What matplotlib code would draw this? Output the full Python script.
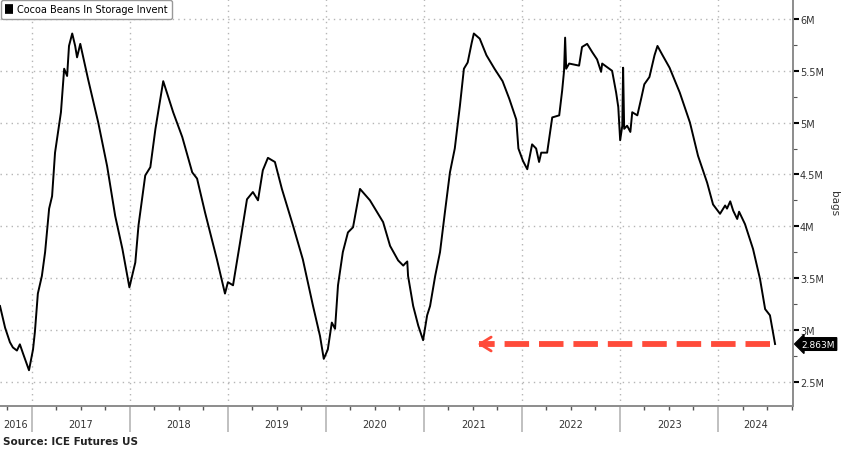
import pandas as pd
import numpy as np
import matplotlib
matplotlib.use("Agg")
import matplotlib.pyplot as plt
import matplotlib.dates as mdates

plt.rcParams['font.family'] = ['DejaVu Sans']

# Cocoa beans in ICE storage, million bags
dates = [
    "2016-09-04", "2016-09-23", "2016-10-11", "2016-10-22", "2016-11-06", "2016-11-17",
    "2016-11-29", "2016-12-21", "2017-01-05", "2017-01-12", "2017-01-23", "2017-02-07",
    "2017-02-19", "2017-03-06", "2017-03-17", "2017-03-28", "2017-04-19", "2017-05-01",
    "2017-05-12", "2017-05-19", "2017-05-31", "2017-06-11", "2017-06-18", "2017-06-30",
    "2017-07-29", "2017-09-05", "2017-10-08", "2017-11-07", "2017-12-04", "2017-12-30",
    "2018-01-21", "2018-02-02", "2018-02-27", "2018-03-18", "2018-04-06", "2018-05-05",
    "2018-06-11", "2018-07-15", "2018-08-21", "2018-09-08", "2018-10-08", "2018-11-21",
    "2018-12-21", "2019-01-01", "2019-01-20", "2019-02-15", "2019-03-13", "2019-04-04",
    "2019-04-23", "2019-05-11", "2019-05-30", "2019-06-25", "2019-07-21", "2019-08-31",
    "2019-10-07", "2019-11-14", "2019-12-10", "2019-12-24", "2020-01-08", "2020-01-23",
    "2020-02-04", "2020-02-15", "2020-03-04", "2020-03-23", "2020-04-11", "2020-05-07",
    "2020-06-13", "2020-08-01", "2020-08-27", "2020-09-26", "2020-10-15", "2020-10-22",
    "2020-10-30", "2020-11-02", "2020-11-21", "2020-12-10", "2020-12-28", "2021-01-12",
    "2021-01-23", "2021-02-11", "2021-03-01", "2021-03-19", "2021-04-07", "2021-04-25",
    "2021-05-14", "2021-05-29", "2021-06-12", "2021-06-27", "2021-07-05", "2021-07-27",
    "2021-08-21", "2021-09-20", "2021-10-20", "2021-11-14", "2021-12-10", "2021-12-18",
    "2022-01-04", "2022-01-20", "2022-02-07", "2022-02-22", "2022-03-05", "2022-03-13",
    "2022-04-04", "2022-04-23", "2022-05-19", "2022-05-30", "2022-06-06", "2022-06-10",
    "2022-06-14", "2022-06-25", "2022-08-01", "2022-08-12", "2022-08-31", "2022-09-19",
    "2022-10-07", "2022-10-22", "2022-10-26", "2022-12-02", "2022-12-17", "2022-12-25",
    "2023-01-01", "2023-01-09", "2023-01-12", "2023-01-16", "2023-01-27", "2023-02-08",
    "2023-02-15", "2023-03-06", "2023-03-21", "2023-04-01", "2023-04-20", "2023-05-09",
    "2023-05-20", "2023-06-08", "2023-07-04", "2023-08-11", "2023-09-18", "2023-10-18",
    "2023-11-21", "2023-12-13", "2024-01-08", "2024-01-27", "2024-02-03", "2024-02-15",
    "2024-02-26", "2024-03-12", "2024-03-19", "2024-04-10", "2024-05-10", "2024-06-05",
    "2024-06-24", "2024-07-12", "2024-07-31",
]
bags = [
    3.23, 3.02, 2.88, 2.83, 2.80, 2.86,
    2.77, 2.61, 2.81, 2.98, 3.35, 3.52,
    3.75, 4.17, 4.29, 4.71, 5.10, 5.52,
    5.45, 5.74, 5.86, 5.74, 5.63, 5.76,
    5.42, 5.00, 4.58, 4.10, 3.78, 3.41,
    3.65, 4.01, 4.49, 4.57, 4.94, 5.40,
    5.10, 4.86, 4.52, 4.46, 4.13, 3.68,
    3.35, 3.46, 3.43, 3.84, 4.26, 4.33,
    4.25, 4.54, 4.66, 4.62, 4.36, 4.01,
    3.68, 3.23, 2.94, 2.72, 2.81, 3.07,
    3.01, 3.43, 3.75, 3.94, 3.99, 4.36,
    4.25, 4.04, 3.81, 3.67, 3.62, 3.64,
    3.66, 3.52, 3.23, 3.04, 2.90, 3.14,
    3.23, 3.52, 3.75, 4.13, 4.52, 4.75,
    5.16, 5.52, 5.58, 5.77, 5.86, 5.81,
    5.65, 5.52, 5.40, 5.23, 5.03, 4.75,
    4.63, 4.55, 4.79, 4.75, 4.62, 4.71,
    4.71, 5.05, 5.07, 5.31, 5.50, 5.82,
    5.52, 5.57, 5.55, 5.73, 5.76, 5.68,
    5.61, 5.49, 5.57, 5.50, 5.29, 5.15,
    4.83, 4.97, 5.53, 4.94, 4.97, 4.91,
    5.10, 5.07, 5.24, 5.37, 5.44, 5.65,
    5.74, 5.65, 5.53, 5.29, 5.00, 4.68,
    4.42, 4.21, 4.12, 4.20, 4.17, 4.24,
    4.15, 4.07, 4.14, 4.02, 3.78, 3.49,
    3.20, 3.14, 2.863,
]
last_label = "2.863M"
arrow_start = "2024-07-12"
arrow_end = "2021-07-08"
x_range = ("2016-09-04", "2024-10-06")
y_range = (2.265, 6.193)
years = list(range(2016, 2025))

dates = pd.to_datetime(dates)
xmin, xmax = pd.to_datetime(x_range[0]), pd.to_datetime(x_range[1])

fig = plt.figure(figsize=(8.48, 4.52), dpi=100)
ax = fig.add_axes([0.0, 0.0996, 0.9352, 0.9004])

ax.plot(dates, bags, color='black', lw=1.4, label='Cocoa Beans In Storage Invent')

# red dashed arrow back to the 2021 low
red = '#ff4b3a'
ax.plot([pd.to_datetime(arrow_start), pd.to_datetime(arrow_end) + pd.Timedelta(days=18)],
        [bags[-1], bags[-1]], color=red, lw=4.2, dashes=(4.2, 1.7))
ax.annotate('', xy=(pd.to_datetime(arrow_end), bags[-1]),
            xytext=(pd.to_datetime(arrow_end) + pd.Timedelta(days=45), bags[-1]),
            arrowprops=dict(arrowstyle='->,head_length=0.8,head_width=0.5',
                            color=red, lw=2.0))

ax.set_xlim(xmin, xmax)
ax.set_ylim(*y_range)

# grid
ax.set_yticks(np.arange(2.5, 6.01, 0.5))
ax.set_yticks(np.arange(2.75, 6.01, 0.5), minor=True)
ax.xaxis.set_major_locator(mdates.YearLocator())
ax.xaxis.set_minor_locator(mdates.MonthLocator(bymonth=[4, 7, 10]))
ax.grid(True, which='major', color='#b5b5b5', ls=(0, (1, 3)), lw=1.0)

# spines
for s in ['left', 'top']:
    ax.spines[s].set_visible(False)
for s in ['right', 'bottom']:
    ax.spines[s].set_color('#8c8c8c')
    ax.spines[s].set_linewidth(1.4)

# y axis on right
ax.yaxis.tick_right()
ax.yaxis.set_label_position('right')
ax.set_yticklabels([f'{v:g}M' for v in np.arange(2.5, 6.01, 0.5)])
ax.tick_params(axis='y', which='major', length=4, width=1.5, color='black',
               labelsize=7, labelcolor='#333333', pad=1)
ax.tick_params(axis='y', which='minor', length=3, width=0.8, color='#555555')
ax.set_ylabel('bags', rotation=270, fontsize=7.5, color='#333333', labelpad=11)

# x axis: long year separators, small quarter ticks, year names centred
ax.tick_params(axis='x', which='major', length=19, width=1.4, color='#c0c0c0',
               labelbottom=False)
ax.tick_params(axis='x', which='minor', length=3, width=1.0, color='#555555')
for yr in years:
    a = max(pd.Timestamp(f'{yr}-01-01'), xmin)
    b = min(pd.Timestamp(f'{yr + 1}-01-01'), xmax)
    mid = a + (b - a) / 2
    ax.text(mid, -0.045, str(yr), transform=ax.get_xaxis_transform(),
            ha='center', va='center', fontsize=7, color='#333333')

# last value tag
ax.annotate(last_label, xy=(1.0, bags[-1]), xycoords=('axes fraction', 'data'),
            xytext=(6, 0), textcoords='offset points', ha='left', va='center',
            fontsize=6.5, color='white',
            bbox=dict(boxstyle='larrow,pad=0.2', fc='black', ec='black'))

# legend box
leg = ax.legend(loc='upper left', bbox_to_anchor=(0.0, 1.0), borderaxespad=0.1,
                fontsize=7, handlelength=0.8, handletextpad=0.4,
                borderpad=0.45, fancybox=True, edgecolor='#999999', framealpha=1)
for h in leg.legend_handles:
    h.set_linewidth(7)
    h.set_solid_capstyle('butt')

fig.text(0.003, 0.022, 'Source: ICE Futures US', fontsize=7.5, fontweight='bold',
         ha='left', va='center', color='#222222')

fig.savefig('out.png', dpi=100)
